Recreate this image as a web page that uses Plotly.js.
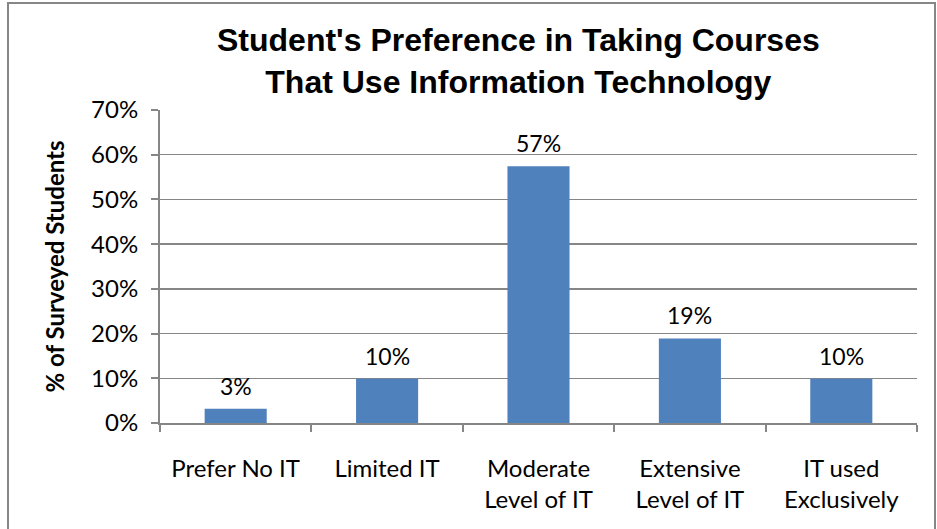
<!DOCTYPE html>
<html>
<head>
<meta charset="utf-8">
<script src="https://cdn.plot.ly/plotly-3.0.1.min.js"></script>
<style>html,body{margin:0;padding:0;background:#fff;}#chart{width:937px;height:529px;}</style>
</head>
<body>
<div id="chart"></div>
<script>
const categories = ["Prefer No IT", "Limited IT", "Moderate<br>Level of IT", "Extensive<br>Level of IT", "IT used<br>Exclusively"];
const values = [0.032, 0.099, 0.574, 0.189, 0.099];
const valueLabels = ["3%", "10%", "57%", "19%", "10%"];
const yTickVals = [0, 0.1, 0.2, 0.3, 0.4, 0.5, 0.6, 0.7];
const yTickText = ["0%", "10%", "20%", "30%", "40%", "50%", "60%", "70%"];
const titleLines = ["Student's Preference in Taking Courses", "That Use Information Technology"];

const FONT = "Lato, 'Open Sans', sans-serif";
const GRAY = "#868686";

const trace = {
  type: "bar",
  x: categories,
  y: values,
  marker: {color: "#4F81BD"},
  hoverinfo: "skip"
};

const annotations = categories.map((c, i) => ({
  x: c, y: values[i], xref: "x", yref: "y",
  text: valueLabels[i], showarrow: false,
  yanchor: "middle", yshift: 23,
  font: {family: FONT, size: 23, color: "#000"}
}));

annotations.push({
  xref: "paper", yref: "paper",
  x: (518 - 160) / 757, y: (423 - 61) / 313,
  xanchor: "center", yanchor: "middle",
  text: "<b>" + titleLines.join("<br>") + "</b>",
  showarrow: false,
  font: {family: "'Liberation Sans Narrow', sans-serif", size: 32, color: "#000"}
});

const layout = {
  width: 937, height: 529,
  margin: {l: 160, r: 20, t: 110, b: 106, pad: 0},
  paper_bgcolor: "#fff", plot_bgcolor: "#fff",
  bargap: 0.59,
  showlegend: false,
  xaxis: {
    type: "category",
    showgrid: false,
    showline: true, linecolor: GRAY, linewidth: 2,
    ticks: "outside", tickson: "boundaries", ticklen: 7, tickcolor: GRAY, tickwidth: 2,
    ticklabelstandoff: 23,
    tickfont: {family: FONT, size: 24, color: "#000"},
    fixedrange: true
  },
  yaxis: {
    range: [0, 0.7],
    tickvals: yTickVals, ticktext: yTickText,
    showgrid: true, gridcolor: GRAY, gridwidth: 1.5,
    showline: true, linecolor: GRAY, linewidth: 2,
    ticks: "outside", ticklen: 7, tickcolor: GRAY, tickwidth: 2,
    ticklabelstandoff: 8,
    zeroline: false,
    tickfont: {family: FONT, size: 24, color: "#000"},
    title: {text: "<b>% of Surveyed Students</b>", font: {family: FONT, size: 24, color: "#000"}, standoff: 20},
    fixedrange: true
  },
  annotations: annotations,
  shapes: [{
    type: "rect", xref: "paper", yref: "paper",
    x0: (8 - 160) / 757, x1: (935 - 160) / 757,
    y0: (423 - 540) / 313, y1: (423 - 3) / 313,
    line: {color: GRAY, width: 2}, fillcolor: "rgba(0,0,0,0)", layer: "below"
  }]
};

Plotly.newPlot("chart", [trace], layout, {displayModeBar: false, staticPlot: true});
</script>
</body>
</html>
